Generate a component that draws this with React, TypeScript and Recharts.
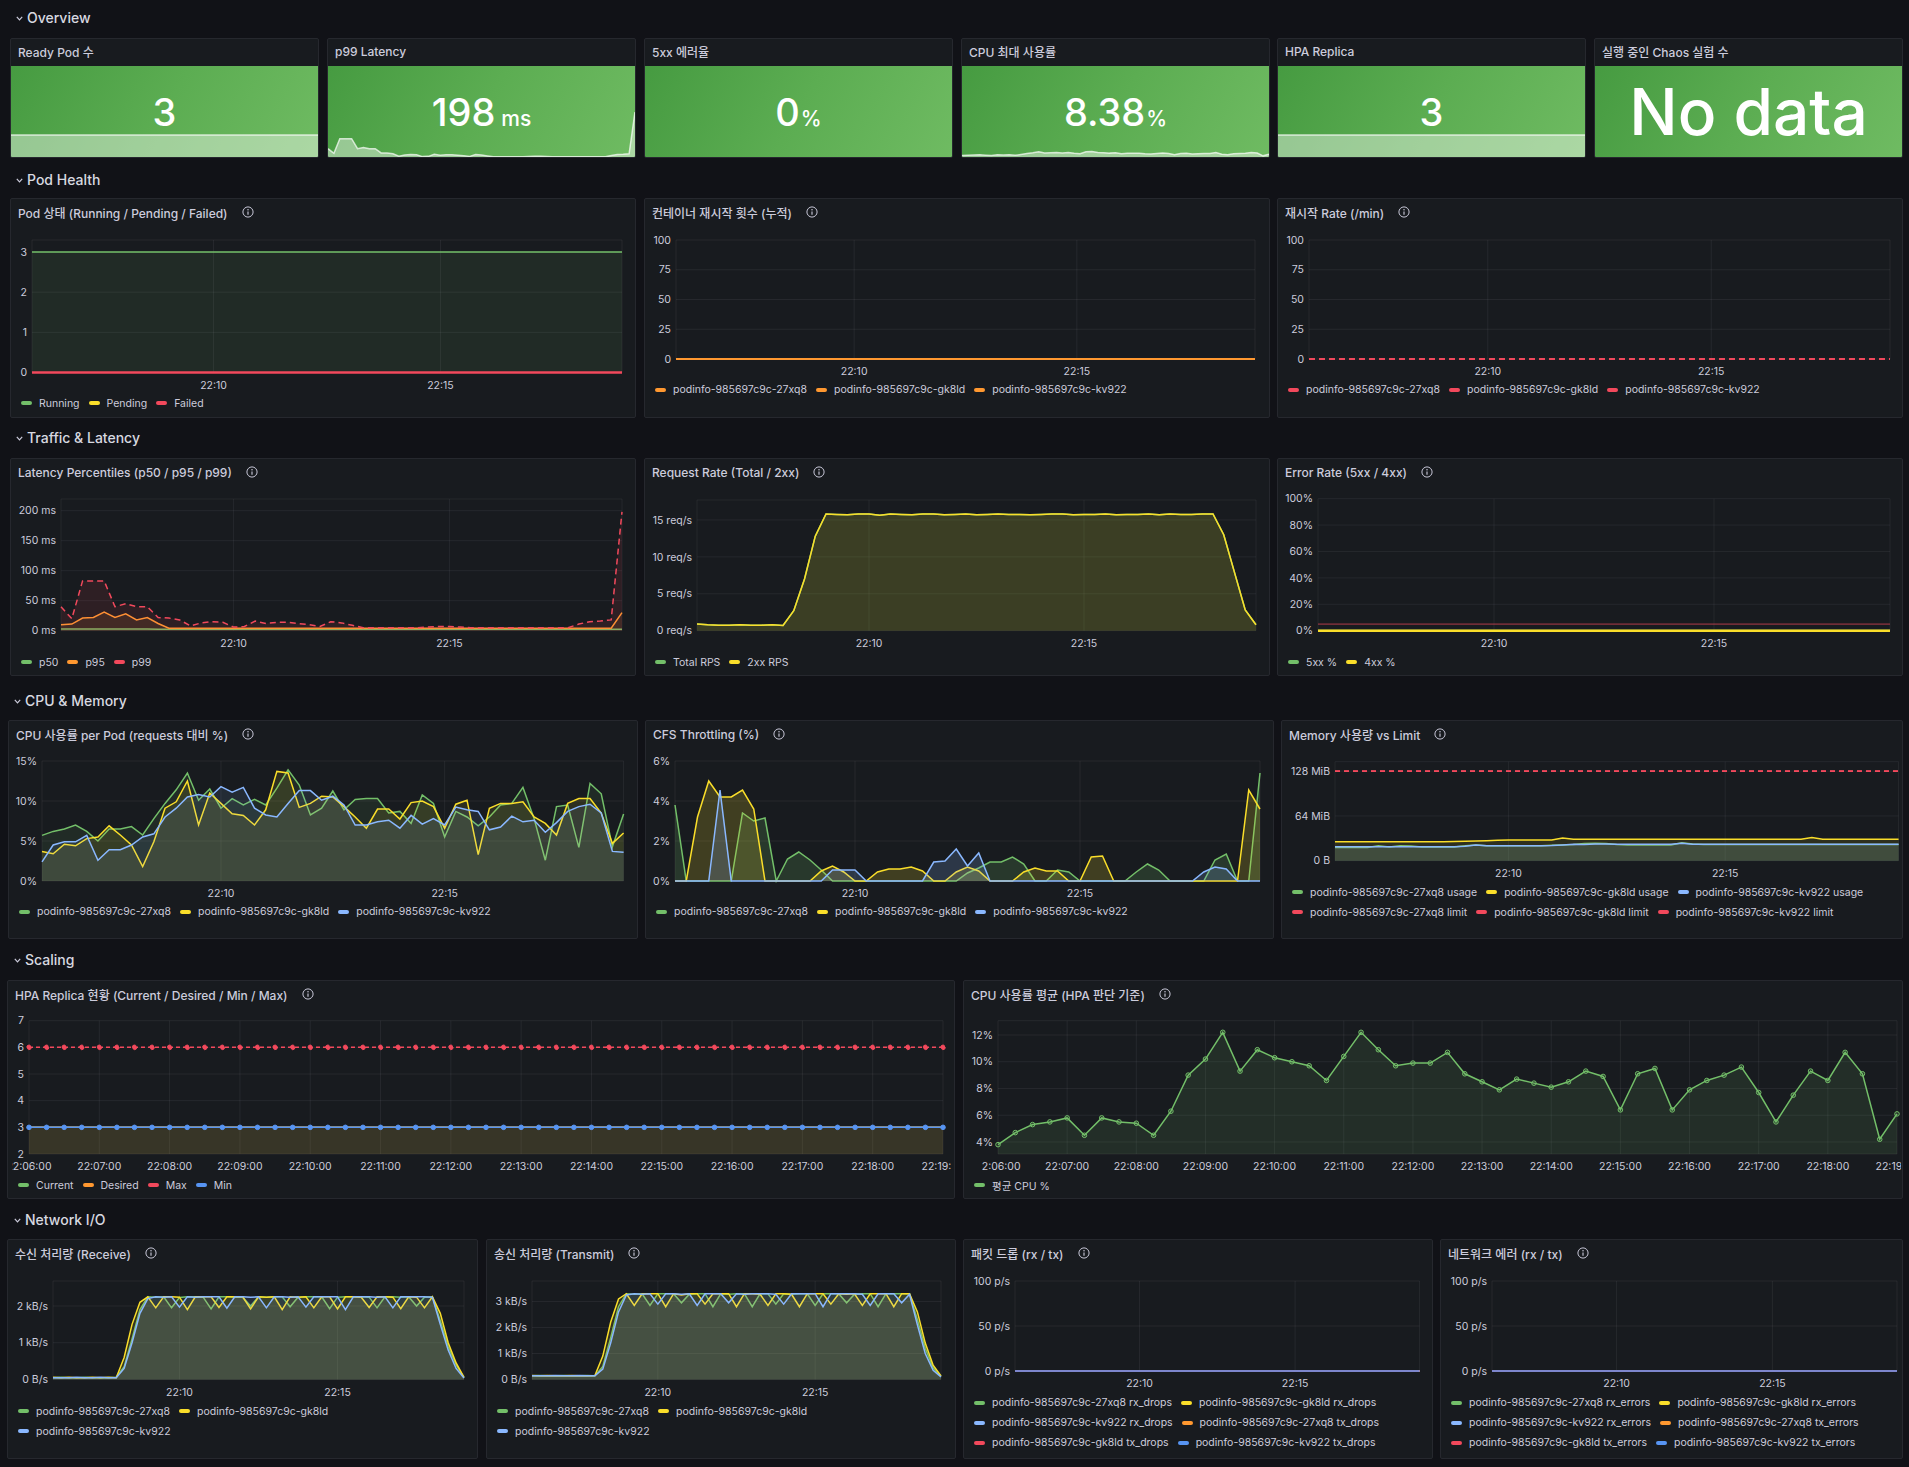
import React from "react";
import {
  Area,
  CartesianGrid,
  ComposedChart,
  Line,
  ReferenceLine,
  XAxis,
  YAxis,
} from "recharts";

const FONT = "Inter, 'Noto Sans CJK KR', 'Noto Sans', sans-serif";
const TEXT = "#ccccdc";
const GRID = "rgba(204, 204, 220, 0.08)";
const PANEL_BG = "#181b1f";
const PANEL_BORDER = "#26282e";
const TICK_SIZE = 10.5;

const GREEN = "#73BF69";
const YELLOW = "#FADE2A";
const SKY = "#8AB8FF";
const ORANGE = "#FF9830";
const RED = "#F2495C";
const BLUE = "#5794F2";

const POD_A = "podinfo-985697c9c-27xq8";
const POD_B = "podinfo-985697c9c-gk8ld";
const POD_C = "podinfo-985697c9c-kv922";

// one sample every 15 s, 22:06:00 .. 22:19:00 (seconds after 22:06:00)
const SAMPLE_SECONDS = Array.from({ length: 53 }, (_, i) => i * 15);
const FIVE_MIN_TICKS = [240, 540];
const MINUTE_TICKS = [0, 60, 120, 180, 240, 300, 360, 420, 480, 540, 600, 660, 720, 780];

// ---- pod state / restarts / hpa (flat values) ----
const RUNNING_PODS = 3;
const PENDING_PODS = 0;
const FAILED_PODS = 0;
const RESTART_COUNT = 0;
const RESTART_RATE = 0;
const HPA_CURRENT = 3;
const HPA_DESIRED = 3;
const HPA_MIN = 3;
const HPA_MAX = 6;
const ERR_5XX_PCT = 0;
const ERR_4XX_PCT = 0;
const ERR_THRESHOLD_PCT = 5;
const NET_DROPS = 0;
const NET_ERRORS = 0;
const MEM_LIMIT_MIB = 128;

// ---- latency (ms) ----
const P50_MS = [
  2.8, 2.8, 2.9, 2.9, 3, 3, 2.9, 2.8, 2.8, 2.6,
  2.5, 2.5, 2.5, 2.5, 2.5, 2.5, 2.5, 2.5, 2.5, 2.5,
  2.5, 2.5, 2.5, 2.5, 2.5, 2.5, 2.5, 2.5, 2.5, 2.5,
  2.5, 2.5, 2.5, 2.5, 2.5, 2.5, 2.5, 2.5, 2.5, 2.5,
  2.5, 2.5, 2.5, 2.5, 2.5, 2.5, 2.5, 2.5, 2.5, 2.5,
  2.5, 2.5, 2.6,
];
const P95_MS = [
  10, 11, 21, 22, 31, 22, 28, 18, 22, 12,
  4, 4, 4, 4, 4, 4, 4, 4, 4, 4,
  4, 4, 4, 4, 4, 4, 4, 4, 4, 4,
  4, 4, 4, 4, 4, 4, 4, 4, 4, 4,
  4, 4, 4, 4, 4, 4, 4, 4, 4, 4,
  4, 4, 30,
];
const P99_MS = [
  40, 20, 83, 83, 83, 40, 45, 40, 40, 22,
  21, 18, 8, 13, 15, 14, 6, 7, 16, 12,
  14, 14, 12, 10, 7, 15, 13, 9, 5, 5,
  5, 5, 5, 5, 6, 7, 7, 6, 5, 5,
  5, 5, 5, 5, 5, 5, 5, 5, 11, 15,
  16, 18, 198,
];

// ---- request rate (req/s) ----
const RPS_TOTAL = [
  0.9, 0.8, 0.75, 0.75, 0.8, 0.75, 0.75, 0.8, 0.7, 2.7,
  7.0, 12.8, 15.8, 15.75, 15.7, 15.8, 15.8, 15.65, 15.8, 15.75,
  15.7, 15.8, 15.8, 15.7, 15.75, 15.8, 15.7, 15.75, 15.8, 15.75,
  15.75, 15.7, 15.75, 15.8, 15.8, 15.7, 15.75, 15.75, 15.8, 15.7,
  15.75, 15.75, 15.8, 15.7, 15.8, 15.75, 15.75, 15.8, 15.8, 13.0,
  7.9, 2.8, 0.8,
];
const RPS_2XX = RPS_TOTAL;

// ---- cpu usage per pod (% of requests) ----
const CPU_A = [
  5.7, 6.2, 6.5, 7.0, 6.2, 5.0, 6.5, 6.5, 6.8, 5.75,
  7.8, 9.7, 11.4, 13.5, 10.1, 11.5, 9.1, 10.3, 9.5, 10.2,
  9.5, 11.6, 13.9, 12.0, 8.25, 9.1, 11.25, 8.9, 10.2, 10.3,
  10.3, 8.5, 8.7, 7.2, 10.75, 9.7, 5.5, 8.7, 8.0, 6.9,
  8.0, 9.5, 9.7, 11.7, 7.8, 2.6, 9.3, 9.5, 4.2, 12.2,
  10.9, 4.3, 8.38,
];
const CPU_B = [
  3.7, 3.4, 4.6, 4.4, 5.3, 5.5, 6.9, 5.75, 4.5, 1.8,
  4.9, 9.1, 9.9, 12.5, 7.0, 11.0, 9.7, 8.4, 8.2, 7.0,
  8.9, 13.7, 13.5, 9.2, 9.7, 10.6, 10.5, 9.3, 8.0, 6.6,
  9.0, 9.0, 7.75, 9.8, 10.0, 9.3, 6.6, 9.6, 10.1, 3.3,
  9.1, 9.7, 9.7, 9.9, 8.0, 7.2, 5.75, 9.7, 10.3, 10.3,
  8.5, 4.7, 6.0,
];
const CPU_C = [
  2.4, 4.5, 4.9, 4.9, 5.7, 2.6, 3.9, 3.9, 4.5, 5.5,
  5.9, 8.0, 9.1, 10.5, 10.8, 10.5, 11.8, 11.1, 11.7, 9.1,
  8.25, 8.0, 9.7, 11.3, 11.3, 10.1, 10.6, 9.5, 7.0, 7.0,
  7.4, 7.6, 6.6, 8.2, 7.1, 7.8, 7.0, 9.25, 8.9, 8.7,
  6.4, 6.75, 8.1, 7.4, 7.6, 6.1, 7.3, 8.7, 9.3, 9.6,
  8.5, 3.7, 3.6,
];
const CPU_MAX = [
  5.7, 6.2, 6.5, 7.0, 6.2, 5.5, 6.9, 6.5, 6.8, 5.75,
  7.8, 9.7, 11.4, 13.5, 10.8, 11.5, 11.8, 11.1, 11.7, 10.2,
  9.5, 13.7, 13.9, 12.0, 11.3, 10.6, 11.25, 9.5, 10.2, 10.3,
  10.3, 9.0, 8.7, 9.8, 10.75, 9.7, 7.0, 9.6, 10.1, 8.7,
  9.1, 9.7, 9.7, 11.7, 8.0, 7.2, 9.3, 9.7, 10.3, 12.2,
  10.9, 4.7, 8.38,
];
const CPU_AVG = [
  3.8, 4.7, 5.3, 5.5, 5.8, 4.5, 5.8, 5.5, 5.4, 4.5,
  6.3, 9.0, 10.2, 12.2, 9.3, 10.9, 10.3, 10.0, 9.7, 8.6,
  10.4, 12.2, 10.9, 9.7, 9.9, 9.9, 10.7, 9.1, 8.5, 7.9,
  8.7, 8.4, 8.1, 8.5, 9.3, 8.9, 6.4, 9.1, 9.5, 6.4,
  7.9, 8.6, 9.0, 9.6, 7.7, 5.5, 7.5, 9.3, 8.6, 10.7,
  9.1, 4.2, 6.1,
];

// ---- cfs throttling (%) ----
const CFS_A = [
  3.8, 0, 0, 0, 0, 0, 3.4, 3.0, 3.15, 0,
  1.1, 1.45, 1.05, 0.55, 0, 0, 0, 0, 0, 0,
  0, 0, 0, 0, 0, 0, 0.4, 0.65, 0.95, 0.95,
  1.2, 0.85, 0, 0, 0.55, 0.45, 0, 0, 0, 0,
  0, 0.45, 0.85, 0.55, 0, 0, 0, 0, 1.05, 1.35,
  0, 0, 5.4,
];
const CFS_B = [
  0, 0, 3.2, 5.0, 4.2, 4.2, 4.55, 3.6, 0, 0,
  0, 0, 0, 0.5, 0.75, 0.45, 0, 0, 0.45, 0.6,
  0.6, 0.7, 0.5, 0, 0, 0.45, 0.7, 0.5, 0, 0,
  0, 0.45, 0.65, 0.5, 0.5, 0, 0, 1.2, 1.25, 0,
  0, 0, 0, 0, 0, 0, 0, 0, 0, 0,
  0, 4.55, 3.6,
];
const CFS_C = [
  0, 0, 0, 0, 4.55, 0, 0, 0, 0, 0,
  0, 0, 0, 0, 0.55, 0.55, 0.55, 0, 0, 0,
  0, 0, 0, 0.95, 1.0, 1.6, 0.75, 1.4, 0, 0,
  0, 0, 0, 0, 0, 0, 0, 0, 0, 0,
  0, 0, 0, 0, 0, 0, 0, 0.45, 0.7, 0.6,
  0, 0, 0,
];

// ---- memory usage (MiB) ----
const MEM_A = [
  19, 19, 19, 19, 21.5, 19.5, 21.5, 21, 19.5, 19.5,
  19.5, 19.5, 21.5, 22.5, 21.5, 21.5, 21.5, 21.5, 21.5, 21.5,
  22, 22.5, 23, 24.5, 25, 24.5, 23, 22.5, 22.5, 22.5,
  22.5, 22.5, 25.5, 24, 23, 23, 23, 23, 23, 23,
  23, 23, 23, 23, 23, 23, 23, 23, 23, 23,
  23, 23, 23,
];
const MEM_B = [
  27, 27, 27, 27, 27, 27, 27, 27, 27, 27,
  27, 27.3, 27.8, 28.2, 28.6, 29.2, 29.5, 29.5, 29.5, 29.5,
  29.6, 32.5, 30.8, 30.8, 30.8, 30.8, 30.8, 30.8, 30.8, 30.8,
  30.8, 30.8, 30.8, 30.8, 30.8, 30.8, 30.8, 30.8, 30.8, 30.8,
  30.8, 30.8, 30.8, 30.8, 33, 30.8, 30.8, 30.8, 30.8, 30.8,
  30.8, 30.8, 30.8,
];
const MEM_C = [
  19.8, 19.8, 19.8, 19.8, 19.8, 19.8, 19.8, 19.8, 19.8, 19.8,
  19.8, 19.8, 20.5, 22.5, 21.5, 21.5, 21.5, 21.5, 21.5, 21.5,
  21.8, 22.5, 23.5, 23, 24, 24, 23.5, 23.5, 23.5, 23.5,
  23.5, 23.5, 25, 23.5, 23.5, 23.5, 23.5, 23.5, 23.5, 23.5,
  23.5, 23.5, 23.5, 23.5, 23.5, 23.5, 23.5, 23.5, 23.5, 23.5,
  23.5, 23.5, 23.5,
];

// ---- network receive / transmit (kB/s) ----
const RX_A = [
  0.05, 0.06, 0.05, 0.05, 0.06, 0.05, 0.05, 0.05, 0.06, 0.35,
  1.1, 1.9, 2.25, 2.24, 2.25, 1.95, 2.23, 2.25, 2.25, 2.24,
  1.92, 2.25, 2.25, 2.24, 2.24, 2.0, 2.25, 2.24, 2.25, 2.25,
  1.98, 2.24, 2.25, 2.25, 2.25, 1.93, 2.24, 2.25, 2.25, 2.25,
  2.24, 1.95, 2.25, 2.25, 2.24, 2.25, 2.0, 2.24, 2.25, 1.6,
  0.9, 0.4, 0.05,
];
const RX_B = [
  0.06, 0.05, 0.06, 0.05, 0.05, 0.06, 0.05, 0.06, 0.05, 0.6,
  1.5, 2.1, 2.25, 1.95, 2.25, 2.25, 2.24, 1.9, 2.25, 2.25,
  2.25, 1.96, 2.25, 2.25, 2.25, 1.92, 2.25, 2.24, 2.25, 1.9,
  2.25, 2.24, 2.25, 1.95, 2.25, 2.25, 1.92, 2.25, 2.25, 2.24,
  1.96, 2.25, 2.25, 2.24, 1.93, 2.25, 2.24, 1.95, 2.25, 1.8,
  1.0, 0.45, 0.06,
];
const RX_C = [
  0.05, 0.05, 0.05, 0.06, 0.05, 0.05, 0.06, 0.05, 0.05, 0.3,
  1.0, 1.8, 2.2, 2.25, 2.24, 2.25, 1.97, 2.25, 2.24, 2.25,
  2.25, 2.25, 1.94, 2.25, 2.25, 2.24, 2.25, 1.95, 2.25, 2.25,
  2.24, 2.25, 1.97, 2.25, 2.25, 2.25, 2.25, 1.9, 2.25, 2.25,
  2.25, 2.24, 2.25, 1.95, 2.25, 2.25, 2.25, 2.25, 2.24, 1.5,
  0.8, 0.3, 0.04,
];
const TX_A = [
  0.14, 0.15, 0.14, 0.14, 0.15, 0.14, 0.14, 0.15, 0.14, 0.5,
  1.6, 2.8, 3.3, 3.28, 3.3, 2.85, 3.3, 3.3, 3.3, 2.95,
  3.28, 3.3, 3.3, 2.8, 3.3, 3.28, 3.3, 3.3, 2.8, 3.3,
  3.3, 2.9, 3.3, 3.28, 3.3, 3.3, 2.85, 3.3, 3.3, 3.3,
  2.95, 3.28, 3.3, 3.3, 2.8, 3.3, 3.3, 3.3, 3.3, 2.3,
  1.2, 0.45, 0.12,
];
const TX_B = [
  0.15, 0.14, 0.15, 0.14, 0.14, 0.15, 0.14, 0.14, 0.15, 0.9,
  2.2, 3.1, 3.3, 2.85, 3.3, 3.3, 3.3, 2.8, 3.3, 3.25,
  3.3, 3.3, 2.9, 3.3, 3.3, 3.3, 2.8, 3.3, 3.3, 3.28,
  2.85, 3.3, 3.3, 3.28, 2.8, 3.3, 3.3, 3.3, 2.9, 3.3,
  3.28, 3.3, 2.85, 3.3, 3.3, 3.3, 2.8, 3.3, 3.3, 2.6,
  1.4, 0.55, 0.14,
];
const TX_C = [
  0.14, 0.14, 0.14, 0.15, 0.14, 0.14, 0.15, 0.14, 0.14, 0.4,
  1.4, 2.6, 3.25, 3.3, 3.28, 3.3, 2.9, 3.3, 3.3, 3.28,
  3.3, 2.85, 3.3, 3.3, 3.3, 2.95, 3.3, 3.28, 3.3, 3.3,
  3.3, 3.28, 2.9, 3.3, 3.3, 3.3, 3.3, 2.8, 3.3, 3.3,
  3.3, 3.3, 3.28, 2.85, 3.3, 3.3, 3.3, 2.95, 3.28, 2.1,
  1.0, 0.35, 0.1,
];

type Box = { x: number; y: number; w: number; h: number };
type Plot = { left: number; right: number; top: number; bottom: number };
type Series = {
  key: string;
  name: string;
  color: string;
  values: number[] | number;
  fill?: number;
  dash?: string;
  dots?: boolean;
  width?: number;
};

function clock(s: number) {
  const t = 22 * 3600 + 6 * 60 + s;
  const h = Math.floor(t / 3600);
  const m = Math.floor((t % 3600) / 60);
  const sec = t % 60;
  return `${h}:${String(m).padStart(2, "0")}:${String(sec).padStart(2, "0")}`;
}
const hhmm = (s: number) => clock(s).slice(0, 5);

function buildRows(series: Series[]) {
  return SAMPLE_SECONDS.map((t, i) => {
    const row: Record<string, number> = { t };
    for (const s of series) {
      row[s.key] = typeof s.values === "number" ? s.values : s.values[i];
    }
    return row;
  });
}

// y tick label as a plain svg text (no word wrapping)
function YTick(props: any) {
  const { x, y, payload, fmt } = props;
  return (
    <text x={x} y={y} dy="0.355em" textAnchor="end" fill={TEXT} fontSize={TICK_SIZE} fontFamily={FONT}>
      {fmt(payload.value)}
    </text>
  );
}

// x tick label clipped to the panel's content box, so edge labels get cut like the canvas
function XTick(props: any) {
  const { x, y, payload, fmt, clipLeft, clipRight } = props;
  return (
    <svg x={clipLeft} y={y - 4} width={clipRight - clipLeft} height={22} overflow="hidden">
      <text
        x={x - clipLeft}
        y={4}
        dy="0.71em"
        textAnchor="middle"
        fill={TEXT}
        fontSize={TICK_SIZE}
        fontFamily={FONT}
      >
        {fmt(payload.value)}
      </text>
    </svg>
  );
}

function InfoIcon() {
  return (
    <svg width="12" height="12" viewBox="0 0 16 16" style={{ marginLeft: 14 }}>
      <circle cx="8" cy="8" r="6.8" fill="none" stroke={TEXT} strokeWidth="1.3" />
      <line x1="8" y1="7.2" x2="8" y2="11.6" stroke={TEXT} strokeWidth="1.5" />
      <circle cx="8" cy="4.9" r="1" fill={TEXT} />
    </svg>
  );
}

function RowHeader({ x, y, title }: { x: number; y: number; title: string }) {
  return (
    <div
      style={{
        position: "absolute",
        left: x,
        top: y - 10,
        height: 20,
        display: "flex",
        alignItems: "center",
        color: "#d8d9e0",
        fontSize: 14,
        fontWeight: 500,
      }}
    >
      <svg width="7" height="5" viewBox="0 0 7 5" style={{ marginRight: 4, marginTop: 3 }}>
        <path d="M0.8 0.8 L3.5 3.8 L6.2 0.8" fill="none" stroke={TEXT} strokeWidth="1.2" />
      </svg>
      {title}
    </div>
  );
}

function PanelFrame({ box, title, children }: { box: Box; title: string; children?: React.ReactNode }) {
  return (
    <div
      style={{
        position: "absolute",
        left: box.x,
        top: box.y,
        width: box.w,
        height: box.h,
        background: PANEL_BG,
        border: `1px solid ${PANEL_BORDER}`,
        borderRadius: 2,
        boxSizing: "border-box",
      }}
    >
      <div
        style={{
          position: "absolute",
          left: 7,
          top: 4,
          height: 18,
          display: "flex",
          alignItems: "center",
          color: TEXT,
          fontSize: 12,
          fontWeight: 500,
          whiteSpace: "nowrap",
        }}
      >
        {title}
        <InfoIcon />
      </div>
      {children}
    </div>
  );
}

type LegendItem = { name: string; color: string };

function LegendRows({ rows, top }: { rows: LegendItem[][]; top: number }) {
  return (
    <div style={{ position: "absolute", left: 10, top: top - 11 }}>
      {rows.map((row, r) => (
        <div key={r} style={{ display: "flex", height: 20, alignItems: "center", whiteSpace: "nowrap" }}>
          {row.map((it) => (
            <div key={it.name} style={{ display: "flex", alignItems: "center", marginRight: 9 }}>
              <span
                style={{ width: 11, height: 4, borderRadius: 2, background: it.color, marginRight: 7 }}
              />
              <span style={{ fontSize: TICK_SIZE, color: TEXT }}>{it.name}</span>
            </div>
          ))}
        </div>
      ))}
    </div>
  );
}

type TSProps = {
  box: Box;
  title: string;
  series: Series[];
  plot: Plot;
  yDomain: [number, number];
  yTicks: number[];
  yFmt: (v: number) => string;
  xTicks?: number[];
  xFmt?: (v: number) => string;
  xClip?: [number, number];
  legendTop: number;
  legendRows?: string[][];
  thresholds?: { y: number; color: string }[];
};

function TimeSeriesPanel({
  box,
  title,
  series,
  plot,
  yDomain,
  yTicks,
  yFmt,
  xTicks = FIVE_MIN_TICKS,
  xFmt = hhmm,
  xClip,
  legendTop,
  legendRows,
  thresholds = [],
}: TSProps) {
  const data = buildRows(series);
  const byKey = Object.fromEntries(series.map((s) => [s.key, s]));
  const rows: LegendItem[][] = legendRows
    ? legendRows.map((r) => r.map((k) => ({ name: byKey[k].name, color: byKey[k].color })))
    : [series.map((s) => ({ name: s.name, color: s.color }))];
  const [clipLeft, clipRight] = xClip ?? [0, box.w];

  return (
    <PanelFrame box={box} title={title}>
      <div style={{ position: "absolute", left: -1, top: -1 }}>
        <ComposedChart
          width={box.w}
          height={plot.bottom + 30}
          data={data}
          margin={{ top: plot.top, right: box.w - plot.right, bottom: 0, left: 0 }}
        >
          <CartesianGrid stroke={GRID} />
          <XAxis
            dataKey="t"
            type="number"
            domain={[0, 780]}
            ticks={xTicks}
            interval={0}
            axisLine={false}
            tickLine={false}
            tickSize={0}
            tickMargin={9}
            height={30}
            tick={(p: any) => <XTick {...p} fmt={xFmt} clipLeft={clipLeft} clipRight={clipRight} />}
          />
          <YAxis
            type="number"
            domain={yDomain}
            ticks={yTicks}
            interval={0}
            axisLine={false}
            tickLine={false}
            tickSize={0}
            tickMargin={5}
            width={plot.left}
            tick={(p: any) => <YTick {...p} fmt={yFmt} />}
          />
          {thresholds.map((t) => (
            <ReferenceLine key={t.y} y={t.y} stroke={t.color} strokeOpacity={0.7} strokeWidth={1} />
          ))}
          {series.map((s) =>
            s.fill ? (
              <Area
                key={s.key}
                type="linear"
                dataKey={s.key}
                stroke={s.color}
                strokeWidth={s.width ?? 1.5}
                strokeDasharray={s.dash}
                fill={s.color}
                fillOpacity={s.fill}
                dot={s.dots ? { r: 2.3, fill: s.color, stroke: s.color, strokeWidth: 1 } : false}
                activeDot={false}
                isAnimationActive={false}
              />
            ) : (
              <Line
                key={s.key}
                type="linear"
                dataKey={s.key}
                stroke={s.color}
                strokeWidth={s.width ?? 1.5}
                strokeDasharray={s.dash}
                dot={s.dots ? { r: 2.3, fill: s.color, stroke: s.color, strokeWidth: 1 } : false}
                activeDot={false}
                isAnimationActive={false}
              />
            )
          )}
        </ComposedChart>
      </div>
      <LegendRows rows={rows} top={legendTop} />
    </PanelFrame>
  );
}

type StatProps = {
  box: Box;
  title: string;
  value: string;
  unit?: string;
  unitGap?: boolean;
  spark?: number[] | number;
  sparkDomain?: [number, number];
  big?: boolean;
};

function StatPanel({ box, title, value, unit, unitGap, spark, sparkDomain, big }: StatProps) {
  const sparkRows =
    spark === undefined
      ? []
      : SAMPLE_SECONDS.map((t, i) => ({ t, v: typeof spark === "number" ? spark : spark[i] }));
  const greenH = box.h - 28;
  return (
    <div
      style={{
        position: "absolute",
        left: box.x,
        top: box.y,
        width: box.w,
        height: box.h,
        background: PANEL_BG,
        border: `1px solid ${PANEL_BORDER}`,
        borderRadius: 2,
        boxSizing: "border-box",
        overflow: "hidden",
      }}
    >
      <div
        style={{
          position: "absolute",
          left: 7,
          top: 3,
          height: 18,
          display: "flex",
          alignItems: "center",
          color: TEXT,
          fontSize: 12,
          fontWeight: 500,
        }}
      >
        {title}
      </div>
      <div
        style={{
          position: "absolute",
          left: 0,
          right: 0,
          top: 27,
          height: greenH,
          background: "linear-gradient(120deg, #469b41 0%, #5cad52 50%, #6fbb62 100%)",
        }}
      >
        {spark !== undefined && sparkDomain && (
          <div style={{ position: "absolute", left: 0, bottom: 0 }}>
            <ComposedChart width={box.w - 2} height={46} data={sparkRows} margin={{ top: 0, right: 0, bottom: 0, left: 0 }}>
              <XAxis dataKey="t" type="number" domain={[0, 780]} hide />
              <YAxis type="number" domain={sparkDomain} hide allowDataOverflow />
              <Area
                type="linear"
                dataKey="v"
                stroke="rgba(255,255,255,0.7)"
                strokeWidth={1.5}
                fill="#ffffff"
                fillOpacity={0.42}
                dot={false}
                activeDot={false}
                isAnimationActive={false}
              />
            </ComposedChart>
          </div>
        )}
        <div
          style={{
            position: "absolute",
            left: 0,
            right: 0,
            top: big ? 46 - 34 : 46 - 20,
            textAlign: "center",
            color: "#ffffff",
            fontSize: big ? 64 : 38,
            fontWeight: 500,
            lineHeight: big ? "68px" : "40px",
            whiteSpace: "nowrap",
          }}
        >
          {value}
          {unit && (
            <span style={{ fontSize: 21, marginLeft: unitGap ? 6 : 1 }}>{unit}</span>
          )}
        </div>
      </div>
    </div>
  );
}

const pct = (v: number) => `${v}%`;
const plain = (v: number) => `${v}`;

export default function App() {
  const statX = [10, 327, 644, 961, 1277, 1594];
  const statBox = (i: number): Box => ({ x: statX[i], y: 38, w: 309, h: 120 });

  return (
    <div
      style={{
        position: "absolute",
        left: 0,
        top: 0,
        width: 1909,
        height: 1467,
        background: "#111217",
        fontFamily: FONT,
        overflow: "hidden",
      }}
    >
      <RowHeader x={16} y={17} title="Overview" />
      <StatPanel box={statBox(0)} title="Ready Pod 수" value={`${RUNNING_PODS}`} spark={RUNNING_PODS} sparkDomain={[0, 6]} />
      <StatPanel box={statBox(1)} title="p99 Latency" value={`${P99_MS[P99_MS.length - 1]}`} unit="ms" unitGap spark={P99_MS} sparkDomain={[0, 198]} />
      <StatPanel box={statBox(2)} title="5xx 에러율" value={`${ERR_5XX_PCT}`} unit="%" spark={ERR_5XX_PCT} sparkDomain={[0, 100]} />
      <StatPanel box={statBox(3)} title="CPU 최대 사용률" value={`${CPU_MAX[CPU_MAX.length - 1]}`} unit="%" spark={CPU_MAX} sparkDomain={[0, 100]} />
      <StatPanel box={statBox(4)} title="HPA Replica" value={`${HPA_CURRENT}`} spark={HPA_CURRENT} sparkDomain={[0, 6]} />
      <StatPanel box={statBox(5)} title="실행 중인 Chaos 실험 수" value="No data" big />

      <RowHeader x={16} y={179} title="Pod Health" />
      <TimeSeriesPanel
        box={{ x: 10, y: 198, w: 626, h: 220 }}
        title="Pod 상태 (Running / Pending / Failed)"
        plot={{ left: 22, right: 612, top: 42, bottom: 174.5 }}
        yDomain={[0, 3.3]}
        yTicks={[0, 1, 2, 3]}
        yFmt={plain}
        legendTop={205}
        series={[
          { key: "running", name: "Running", color: GREEN, values: RUNNING_PODS, fill: 0.1 },
          { key: "pending", name: "Pending", color: YELLOW, values: PENDING_PODS, width: 1 },
          { key: "failed", name: "Failed", color: RED, values: FAILED_PODS, width: 2.5 },
        ]}
      />
      <TimeSeriesPanel
        box={{ x: 644, y: 198, w: 626, h: 220 }}
        title="컨테이너 재시작 횟수 (누적)"
        plot={{ left: 32, right: 611, top: 42, bottom: 161 }}
        yDomain={[0, 100]}
        yTicks={[0, 25, 50, 75, 100]}
        yFmt={plain}
        legendTop={191.5}
        series={[
          { key: "a", name: POD_A, color: ORANGE, values: RESTART_COUNT, width: 2 },
          { key: "b", name: POD_B, color: ORANGE, values: RESTART_COUNT, width: 2 },
          { key: "c", name: POD_C, color: ORANGE, values: RESTART_COUNT, width: 2 },
        ]}
      />
      <TimeSeriesPanel
        box={{ x: 1277, y: 198, w: 626, h: 220 }}
        title="재시작 Rate (/min)"
        plot={{ left: 32, right: 613, top: 42, bottom: 161 }}
        yDomain={[0, 100]}
        yTicks={[0, 25, 50, 75, 100]}
        yFmt={plain}
        legendTop={191.5}
        series={[
          { key: "a", name: POD_A, color: RED, values: RESTART_RATE, dash: "6 4" },
          { key: "b", name: POD_B, color: RED, values: RESTART_RATE, dash: "6 4" },
          { key: "c", name: POD_C, color: RED, values: RESTART_RATE, dash: "6 4" },
        ]}
      />

      <RowHeader x={16} y={437} title="Traffic & Latency" />
      <TimeSeriesPanel
        box={{ x: 10, y: 458, w: 626, h: 218 }}
        title="Latency Percentiles (p50 / p95 / p99)"
        plot={{ left: 51, right: 612, top: 41, bottom: 172.7 }}
        yDomain={[0, 219.5]}
        yTicks={[0, 50, 100, 150, 200]}
        yFmt={(v) => `${v} ms`}
        legendTop={204}
        series={[
          { key: "p50", name: "p50", color: GREEN, values: P50_MS, fill: 0.1 },
          { key: "p95", name: "p95", color: ORANGE, values: P95_MS, fill: 0.1 },
          { key: "p99", name: "p99", color: RED, values: P99_MS, fill: 0.1, dash: "6 4" },
        ]}
      />
      <TimeSeriesPanel
        box={{ x: 644, y: 458, w: 626, h: 218 }}
        title="Request Rate (Total / 2xx)"
        plot={{ left: 53, right: 612, top: 42, bottom: 172.7 }}
        yDomain={[0, 17.7]}
        yTicks={[0, 5, 10, 15]}
        yFmt={(v) => `${v} req/s`}
        legendTop={204}
        series={[
          { key: "total", name: "Total RPS", color: GREEN, values: RPS_TOTAL, fill: 0.08 },
          { key: "ok", name: "2xx RPS", color: YELLOW, values: RPS_2XX, fill: 0.13 },
        ]}
      />
      <TimeSeriesPanel
        box={{ x: 1277, y: 458, w: 626, h: 218 }}
        title="Error Rate (5xx / 4xx)"
        plot={{ left: 41, right: 613, top: 40.7, bottom: 172.7 }}
        yDomain={[0, 100]}
        yTicks={[0, 20, 40, 60, 80, 100]}
        yFmt={pct}
        legendTop={204}
        thresholds={[{ y: ERR_THRESHOLD_PCT, color: RED }]}
        series={[
          { key: "e5", name: "5xx %", color: GREEN, values: ERR_5XX_PCT, width: 2 },
          { key: "e4", name: "4xx %", color: YELLOW, values: ERR_4XX_PCT, width: 2.5 },
        ]}
      />

      <RowHeader x={14} y={700} title="CPU & Memory" />
      <TimeSeriesPanel
        box={{ x: 8, y: 720, w: 630, h: 219 }}
        title="CPU 사용률 per Pod (requests 대비 %)"
        plot={{ left: 34, right: 615.6, top: 41, bottom: 161 }}
        yDomain={[0, 15]}
        yTicks={[0, 5, 10, 15]}
        yFmt={pct}
        legendTop={191.7}
        series={[
          { key: "a", name: POD_A, color: GREEN, values: CPU_A, fill: 0.1 },
          { key: "b", name: POD_B, color: YELLOW, values: CPU_B, fill: 0.1 },
          { key: "c", name: POD_C, color: SKY, values: CPU_C, fill: 0.1 },
        ]}
      />
      <TimeSeriesPanel
        box={{ x: 645, y: 720, w: 629, h: 219 }}
        title="CFS Throttling (%)"
        plot={{ left: 30, right: 615, top: 41, bottom: 161 }}
        yDomain={[0, 6]}
        yTicks={[0, 2, 4, 6]}
        yFmt={pct}
        legendTop={191.7}
        series={[
          { key: "a", name: POD_A, color: GREEN, values: CFS_A, fill: 0.18 },
          { key: "b", name: POD_B, color: YELLOW, values: CFS_B, fill: 0.18 },
          { key: "c", name: POD_C, color: SKY, values: CFS_C, fill: 0.18 },
        ]}
      />
      <TimeSeriesPanel
        box={{ x: 1281, y: 720, w: 622, h: 219 }}
        title="Memory 사용량 vs Limit"
        plot={{ left: 54, right: 617.6, top: 41.7, bottom: 140.7 }}
        yDomain={[0, 141.5]}
        yTicks={[0, 64, 128]}
        yFmt={(v) => (v === 0 ? "0 B" : `${v} MiB`)}
        legendTop={172}
        legendRows={[
          ["ua", "ub", "uc"],
          ["la", "lb", "lc"],
        ]}
        series={[
          { key: "ua", name: `${POD_A} usage`, color: GREEN, values: MEM_A, fill: 0.12 },
          { key: "ub", name: `${POD_B} usage`, color: YELLOW, values: MEM_B, fill: 0.1 },
          { key: "uc", name: `${POD_C} usage`, color: SKY, values: MEM_C, fill: 0.1 },
          { key: "la", name: `${POD_A} limit`, color: RED, values: MEM_LIMIT_MIB, dash: "5 4" },
          { key: "lb", name: `${POD_B} limit`, color: RED, values: MEM_LIMIT_MIB, dash: "5 4" },
          { key: "lc", name: `${POD_C} limit`, color: RED, values: MEM_LIMIT_MIB, dash: "5 4" },
        ]}
      />

      <RowHeader x={14} y={959} title="Scaling" />
      <TimeSeriesPanel
        box={{ x: 7, y: 980, w: 948, h: 219 }}
        title="HPA Replica 현황 (Current / Desired / Min / Max)"
        plot={{ left: 22, right: 936, top: 40.7, bottom: 174 }}
        yDomain={[2, 7]}
        yTicks={[2, 3, 4, 5, 6, 7]}
        yFmt={plain}
        xTicks={MINUTE_TICKS}
        xFmt={clock}
        xClip={[5, 944]}
        legendTop={205}
        series={[
          { key: "cur", name: "Current", color: GREEN, values: HPA_CURRENT, fill: 0.1 },
          { key: "des", name: "Desired", color: ORANGE, values: HPA_DESIRED, fill: 0.1 },
          { key: "max", name: "Max", color: RED, values: HPA_MAX, dash: "4 3", dots: true },
          { key: "min", name: "Min", color: BLUE, values: HPA_MIN, dots: true },
        ]}
      />
      <TimeSeriesPanel
        box={{ x: 963, y: 980, w: 940, h: 219 }}
        title="CPU 사용률 평균 (HPA 판단 기준)"
        plot={{ left: 35, right: 934, top: 40.7, bottom: 174 }}
        yDomain={[3.1, 13.07]}
        yTicks={[4, 6, 8, 10, 12]}
        yFmt={pct}
        xTicks={MINUTE_TICKS}
        xFmt={clock}
        xClip={[19, 938]}
        legendTop={205}
        series={[{ key: "avg", name: "평균 CPU %", color: GREEN, values: CPU_AVG, fill: 0.12, dots: true }]}
      />

      <RowHeader x={14} y={1219} title="Network I/O" />
      <TimeSeriesPanel
        box={{ x: 7, y: 1239, w: 471, h: 220 }}
        title="수신 처리량 (Receive)"
        plot={{ left: 46, right: 457, top: 42, bottom: 140.5 }}
        yDomain={[0, 2.68]}
        yTicks={[0, 1, 2]}
        yFmt={(v) => (v === 0 ? "0 B/s" : `${v} kB/s`)}
        legendTop={172}
        legendRows={[["a", "b"], ["c"]]}
        series={[
          { key: "a", name: POD_A, color: GREEN, values: RX_A, fill: 0.12 },
          { key: "b", name: POD_B, color: YELLOW, values: RX_B, fill: 0.12 },
          { key: "c", name: POD_C, color: SKY, values: RX_C, fill: 0.12 },
        ]}
      />
      <TimeSeriesPanel
        box={{ x: 486, y: 1239, w: 470, h: 220 }}
        title="송신 처리량 (Transmit)"
        plot={{ left: 46, right: 455, top: 42, bottom: 140.5 }}
        yDomain={[0, 3.79]}
        yTicks={[0, 1, 2, 3]}
        yFmt={(v) => (v === 0 ? "0 B/s" : `${v} kB/s`)}
        legendTop={172}
        legendRows={[["a", "b"], ["c"]]}
        series={[
          { key: "a", name: POD_A, color: GREEN, values: TX_A, fill: 0.12 },
          { key: "b", name: POD_B, color: YELLOW, values: TX_B, fill: 0.12 },
          { key: "c", name: POD_C, color: SKY, values: TX_C, fill: 0.12 },
        ]}
      />
      <TimeSeriesPanel
        box={{ x: 963, y: 1239, w: 470, h: 220 }}
        title="패킷 드롭 (rx / tx)"
        plot={{ left: 52, right: 456.6, top: 42, bottom: 132 }}
        yDomain={[0, 100]}
        yTicks={[0, 50, 100]}
        yFmt={(v) => `${v} p/s`}
        legendTop={163.5}
        legendRows={[
          ["ra", "rb"],
          ["rc", "ta"],
          ["tb", "tc"],
        ]}
        series={[
          { key: "ra", name: `${POD_A} rx_drops`, color: GREEN, values: NET_DROPS },
          { key: "rb", name: `${POD_B} rx_drops`, color: YELLOW, values: NET_DROPS },
          { key: "rc", name: `${POD_C} rx_drops`, color: SKY, values: NET_DROPS },
          { key: "ta", name: `${POD_A} tx_drops`, color: ORANGE, values: NET_DROPS },
          { key: "tb", name: `${POD_B} tx_drops`, color: RED, values: NET_DROPS },
          { key: "tc", name: `${POD_C} tx_drops`, color: BLUE, values: NET_DROPS },
        ]}
      />
      <TimeSeriesPanel
        box={{ x: 1440, y: 1239, w: 463, h: 220 }}
        title="네트워크 에러 (rx / tx)"
        plot={{ left: 52, right: 457, top: 42, bottom: 132 }}
        yDomain={[0, 100]}
        yTicks={[0, 50, 100]}
        yFmt={(v) => `${v} p/s`}
        legendTop={163.5}
        legendRows={[
          ["ra", "rb"],
          ["rc", "ta"],
          ["tb", "tc"],
        ]}
        series={[
          { key: "ra", name: `${POD_A} rx_errors`, color: GREEN, values: NET_ERRORS },
          { key: "rb", name: `${POD_B} rx_errors`, color: YELLOW, values: NET_ERRORS },
          { key: "rc", name: `${POD_C} rx_errors`, color: SKY, values: NET_ERRORS },
          { key: "ta", name: `${POD_A} tx_errors`, color: ORANGE, values: NET_ERRORS },
          { key: "tb", name: `${POD_B} tx_errors`, color: RED, values: NET_ERRORS },
          { key: "tc", name: `${POD_C} tx_errors`, color: BLUE, values: NET_ERRORS },
        ]}
      />
    </div>
  );
}
